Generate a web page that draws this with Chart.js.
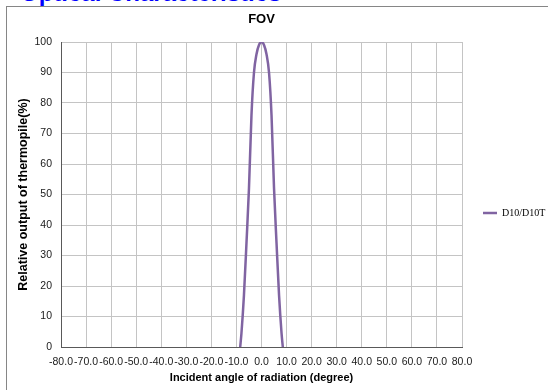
<!DOCTYPE html>
<html>
<head>
<meta charset="utf-8">
<script src="https://cdn.jsdelivr.net/npm/chart.js@4.4.1/dist/chart.umd.min.js"></script>
<style>
  html, body { margin: 0; padding: 0; background: #fff; overflow: hidden; }
  #page { position: relative; width: 548px; height: 390px; overflow: hidden; }
  #heading {
    position: absolute; left: 20px; top: -19px;
    font: bold 24px "Liberation Sans", Arial, sans-serif; line-height: 24px;
    color: #0000ff; white-space: nowrap;
  }
  #frame { position: absolute; left: 6px; top: 6px; width: 600px; height: 500px; border: 1px solid #868686; }
  #fov { position: absolute; left: 0; top: 0; }
</style>
</head>
<body>
<div id="page">
  <div id="heading">Optical Characteristics</div>
  <div id="frame"></div>
  <canvas id="fov" width="548" height="390"></canvas>
</div>
<script>
// values
const seriesName = "D10/D10T";
const angles = [-8.5, -8, -7, -6, -5, -4, -3, -2, -1, 0, 1, 2, 3, 4, 5, 6, 7, 8, 8.5];
const output = [0, 4.5, 17, 34, 52, 76, 90, 96, 99, 100, 99, 96, 90, 76, 52, 34, 17, 4.5, 0];
const xTicks = { min: -80, max: 80, step: 10 };
const yTicks = { min: 0, max: 100, step: 10 };

const sans = "'Liberation Sans', Arial, sans-serif";
const gridColor = "#c4c4c4";
const axisColor = "#595959";

const ctx = document.getElementById("fov").getContext("2d");
const chart = new Chart(ctx, {
  type: "line",
  data: {
    datasets: [
      {
        label: seriesName,
        data: angles.map((a, i) => ({ x: a, y: output[i] })),
        borderColor: "#8064a2",
        backgroundColor: "#8064a2",
        borderWidth: 2.5,
        pointRadius: 0,
        cubicInterpolationMode: "monotone",
        fill: false,
      },
    ],
  },
  options: {
    responsive: false,
    animation: false,
    layout: { padding: 0 },
    plugins: {
      title: {
        display: true,
        text: "FOV",
        fullSize: false,
        color: "#000",
        font: { family: sans, size: 13, weight: "bold" },
        padding: { top: 12, bottom: 14.4 },
      },
      legend: {
        position: "right",
        labels: {
          usePointStyle: true,
          pointStyle: "line",
          pointStyleWidth: 14,
          color: "#000",
          font: { family: "'Liberation Serif', 'Times New Roman', serif", size: 10 },
          padding: 21,
        },
      },
      tooltip: { enabled: false },
    },
    scales: {
      x: {
        type: "linear",
        min: xTicks.min,
        max: xTicks.max,
        ticks: {
          stepSize: xTicks.step,
          autoSkip: false,
          maxRotation: 0,
          padding: 9,
          color: "#1a1a1a",
          font: { family: sans, size: 10.5 },
          callback: (v) => v.toFixed(1),
        },
        grid: { color: gridColor, drawTicks: false },
        border: { color: axisColor, width: 1 },
        title: {
          display: true,
          text: "Incident angle of radiation (degree)",
          color: "#000",
          font: { family: sans, size: 11, weight: "bold" },
          padding: { top: 0, bottom: 5 },
        },
        afterFit: (scale) => {
          scale.height = 43;
        },
      },
      y: {
        min: yTicks.min,
        max: yTicks.max,
        ticks: {
          stepSize: yTicks.step,
          padding: 9,
          color: "#1a1a1a",
          font: { family: sans, size: 10.5 },
        },
        grid: { color: gridColor, drawTicks: false },
        border: { color: axisColor, width: 1 },
        title: {
          display: true,
          text: "Relative output of thermopile(%)",
          color: "#000",
          font: { family: sans, size: 12.5, weight: "bold" },
          padding: { top: 16, bottom: 0 },
        },
        afterFit: (scale) => {
          scale.width = 61;
        },
      },
    },
  },
});

// legend box sits to the right of the plot, a bit below centre like the Excel one
const legend = chart.legend;
const legendFit = legend.fit.bind(legend);
legend.fit = function () {
  legendFit();
  this.width = 86;
};
const legendDraw = legend.draw.bind(legend);
legend.draw = function () {
  ctx.save();
  ctx.translate(0, 18);
  legendDraw();
  ctx.restore();
};
chart.update();
</script>
</body>
</html>
